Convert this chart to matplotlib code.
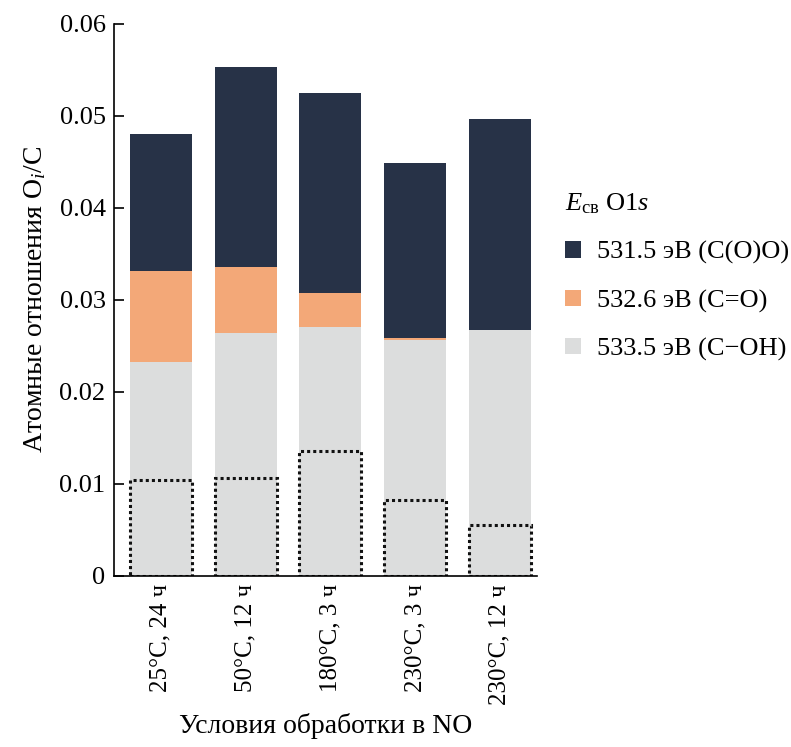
import matplotlib
matplotlib.use("Agg")
import matplotlib.pyplot as plt
from matplotlib import font_manager
import numpy as np

# Условия обработки и доли кислородных групп (O1s)
conditions = ["25°C, 24 ч", "50°C, 12 ч", "180°C, 3 ч", "230°C, 3 ч", "230°C, 12 ч"]
c_oh = [0.0232, 0.0264, 0.0271, 0.0256, 0.0267]    # 533.5 эВ (C–OH)
c_eq_o = [0.0099, 0.0072, 0.0037, 0.0003, 0.0]     # 532.6 эВ (C=O)
c_o_o = [0.0149, 0.0217, 0.0217, 0.0190, 0.0230]   # 531.5 эВ (C(O)O)
dotted_part = [0.0104, 0.0106, 0.0136, 0.0082, 0.0055]

labels = ["531.5 эВ (C(O)O)", "532.6 эВ (C=O)", "533.5 эВ (C\u2212OH)"]
yticks = [0, 0.01, 0.02, 0.03, 0.04, 0.05, 0.06]
ytick_labels = ["0", "0.01", "0.02", "0.03", "0.04", "0.05", "0.06"]

names = {f.name for f in font_manager.fontManager.ttflist}
serif = [n for n in ["Liberation Serif", "DejaVu Serif"] if n in names]

plt.rcParams["font.family"] = "serif"
plt.rcParams["font.serif"] = serif
plt.rcParams["mathtext.fontset"] = "custom"
plt.rcParams["mathtext.rm"] = serif[0]
plt.rcParams["mathtext.it"] = serif[0] + ":italic"

navy = "#273247"
orange = "#f3a878"
grey = "#dcdddd"

fig = plt.figure(figsize=(7.91, 7.47), dpi=100)
ax = fig.add_axes([0.144, 0.229, 0.535, 0.739])

x = np.arange(len(conditions))
w = 0.73
b1 = np.array(c_oh)
b2 = b1 + np.array(c_eq_o)
h3 = ax.bar(x, c_oh, w, color=grey, label=labels[2])
h2 = ax.bar(x, c_eq_o, w, bottom=b1, color=orange, label=labels[1])
h1 = ax.bar(x, c_o_o, w, bottom=b2, color=navy, label=labels[0])
# пунктирные рамки внутри серой части
ax.bar(x, dotted_part, w, fill=False, edgecolor="#111111",
       linestyle=(0, (1, 1)), linewidth=2.2)

ax.set_xlim(-0.555, 4.44)
ax.set_ylim(0, 0.06)
ax.set_yticks(yticks)
ax.set_yticklabels(ytick_labels, fontsize=19)
ax.set_xticks(x)
ax.set_xticklabels(conditions, rotation=90, fontsize=18)
ax.tick_params(axis="y", direction="in", length=7, width=1.2, pad=6)
ax.tick_params(axis="x", length=0, pad=6)
for s in ["top", "right"]:
    ax.spines[s].set_visible(False)
ax.spines["left"].set_linewidth(1.2)
ax.spines["bottom"].set_linewidth(1.2)

ax.set_ylabel(r"Атомные отношения O$_{i}$/C", fontsize=20, labelpad=8)
ax.set_xlabel("Условия обработки в NO", fontsize=20, labelpad=6)

leg = ax.legend(handles=[h1, h2, h3], loc="upper left",
                bbox_to_anchor=(1.035, 0.72), frameon=False, fontsize=19,
                title=r"$E_{\mathrm{св}}$ O1$s$", title_fontsize=19,
                handlelength=0.6, handleheight=0.6, handletextpad=0.6,
                labelspacing=0.95, alignment="left", borderpad=0)

fig.savefig("out.png", dpi=100)
